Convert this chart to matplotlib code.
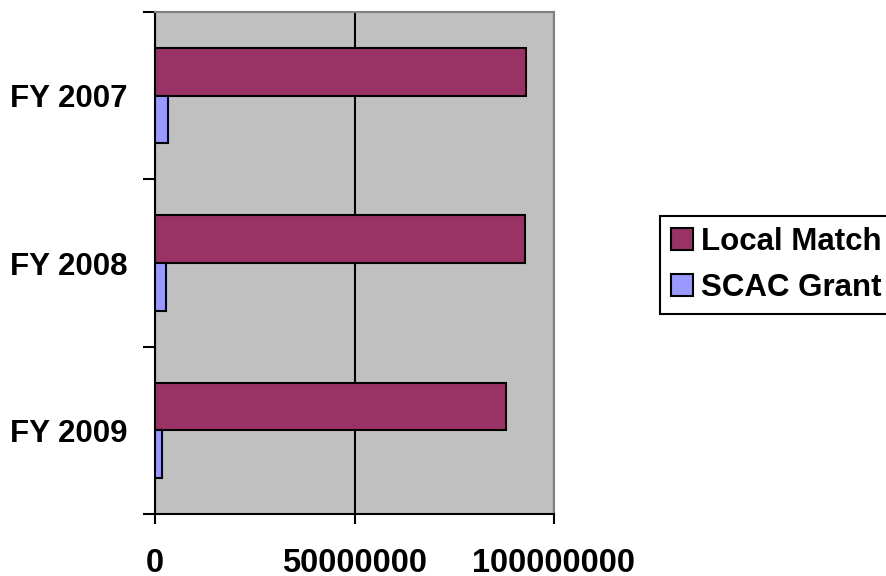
import matplotlib
matplotlib.use("Agg")
import matplotlib.pyplot as plt
import numpy as np

categories = ["FY 2007", "FY 2008", "FY 2009"]
local_match = [93000000, 92800000, 88000000]
scac_grant = [3300000, 2700000, 1750000]
series_names = ["Local Match", "SCAC Grant"]
x_ticks = [0, 50000000, 100000000]
x_tick_labels = ["0", "50000000", "100000000"]

plt.rcParams['font.family'] = ['Liberation Sans', 'DejaVu Sans']
plt.rcParams['font.weight'] = 'bold'

fig = plt.figure(figsize=(8.87, 5.76), dpi=100)
ax = fig.add_axes([155/887, 1 - 514/576, (554 - 155)/887, (514 - 12)/576])
ax.set_facecolor('#C0C0C0')

y = np.arange(len(categories))
h = 0.285
ax.barh(y - h/2, local_match, height=h, color='#993366', edgecolor='black',
        linewidth=1.5, label=series_names[0], zorder=3)
ax.barh(y + h/2, scac_grant, height=h, color='#9999FF', edgecolor='black',
        linewidth=1.5, label=series_names[1], zorder=3)

ax.set_xlim(0, 100000000)
ax.set_ylim(len(categories) - 0.5, -0.5)

ax.set_xticks(x_ticks)
ax.set_xticklabels(x_tick_labels, fontsize=23.5, fontweight='bold')
ax.set_yticks(y)
ax.set_yticklabels(categories, fontsize=22.5, fontweight='bold')
ax.set_yticks(np.arange(-0.5, len(categories) + 0.5, 1), minor=True)

ax.tick_params(axis='y', which='major', length=0, pad=19.5)
ax.tick_params(axis='y', which='minor', length=8.5, width=1.5, direction='out')
ax.tick_params(axis='x', which='major', length=7.5, width=1.5, direction='out', pad=17)

ax.xaxis.grid(True, color='black', linewidth=1.5, zorder=1)
ax.set_axisbelow(True)

for s in ['left', 'bottom']:
    ax.spines[s].set_color('black')
    ax.spines[s].set_linewidth(1.5)
for s in ['top', 'right']:
    ax.spines[s].set_color('#808080')
    ax.spines[s].set_linewidth(1.5)

leg = fig.legend(loc='upper left', bbox_to_anchor=(660/887, 1 - 216/576),
                 fontsize=22.5, frameon=True, fancybox=False,
                 edgecolor='black', framealpha=1, handlelength=0.7,
                 handleheight=0.7, handletextpad=0.25, labelspacing=0.5,
                 borderpad=0.35, borderaxespad=0)
leg.get_frame().set_linewidth(1.5)
for t in leg.get_texts():
    t.set_fontweight('bold')

fig.savefig('out.png', dpi=100)
